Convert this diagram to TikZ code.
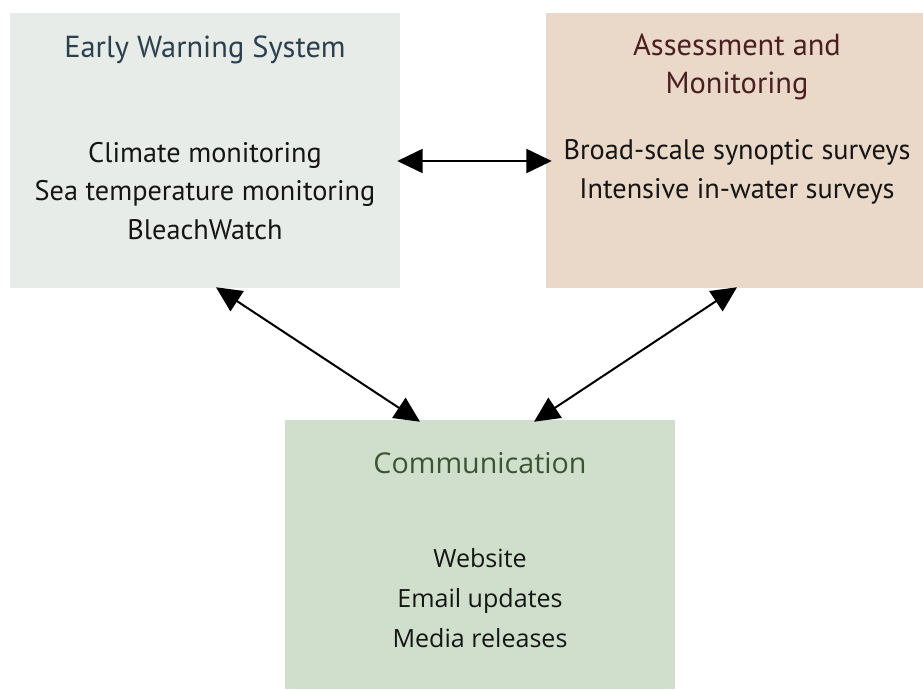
\documentclass[tikz,border=0pt]{standalone}
\usepackage{fontspec}
\setmainfont{PT Sans}
\newfontfamily\commfont{Open Sans}
\usetikzlibrary{arrows.meta,calc}
\definecolor{ewsfill}{HTML}{E8ECE8}
\definecolor{amfill}{HTML}{EAD8C8}
\definecolor{commfill}{HTML}{D0DFCC}
\definecolor{ewstitle}{HTML}{2B3F4F}
\definecolor{amtitle}{HTML}{4B1E22}
\definecolor{commtitle}{HTML}{3B5534}
\definecolor{txt}{HTML}{151515}
\begin{document}
\begin{tikzpicture}[x=0.75pt,y=-0.75pt,
  panel/.style={draw=none,inner sep=0pt,anchor=center},
  toptext/.style={align=center,font=\fontsize{21.2}{29}\selectfont,text=txt,inner sep=0pt},
  toptitle/.style={align=center,font=\fontsize{22.8}{28}\selectfont,inner sep=0pt},
  bottext/.style={align=center,font=\commfont\fontsize{18.8}{30}\selectfont,text=txt,inner sep=0pt},
  bottitle/.style={align=center,font=\commfont\fontsize{21.5}{30}\selectfont,text=commtitle,inner sep=0pt},
  dbl/.style={{Triangle[length=19pt,width=18pt]}-{Triangle[length=19pt,width=18pt]},line width=1.5pt,black}]
\useasboundingbox (0,0) rectangle (923,689);
\fill[white] (0,0) rectangle (923,689);
\node[panel,fill=ewsfill,minimum width=292.5pt,minimum height=206.25pt] (ews) at (205,150.5) {};
\node[panel,fill=amfill,minimum width=282.75pt,minimum height=206.25pt] (am) at (734.5,150.5) {};
\node[panel,fill=commfill,minimum width=292.5pt,minimum height=201.75pt] (comm) at (480,554.5) {};
\node[toptitle,text=ewstitle] (ewst) at (205,50) {Early Warning System};
\node[toptext] (ewsi) at (205,191) {Climate monitoring\\Sea temperature monitoring\\BleachWatch};
\node[toptitle,text=amtitle] (amt) at (737,67) {Assessment and\\Monitoring};
\node[toptext] (ami) at (737,172) {Broad-scale synoptic surveys\\Intensive in-water surveys};
\node[bottitle] (commt) at (480,463) {Communication};
\node[bottext] (commi) at (480,598) {Website\\Email updates\\Media releases};
\draw[dbl] ($(ews.east)+(-3,10.5)$) -- ($(am.west)+(6,10.5)$);
\draw[dbl] ($(ews.south)+(11,-1)$) -- ($(comm.north)+(-60,2)$);
\draw[dbl] ($(am.south)+(2.5,-1)$) -- ($(comm.north)+(54,2)$);
\end{tikzpicture}
\end{document}
